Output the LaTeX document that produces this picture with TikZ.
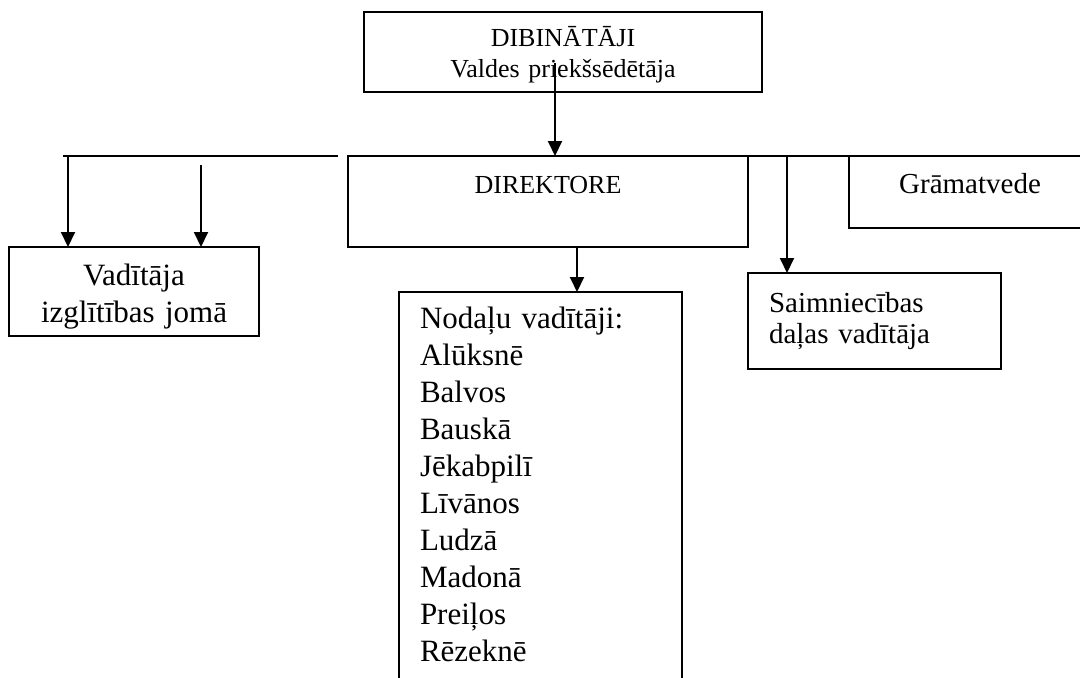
\documentclass[tikz,border=0pt]{standalone}
\usepackage{fontspec}
\setmainfont{Liberation Serif}
\usetikzlibrary{arrows.meta}
\newcommand{\boxsmall}{\fontsize{26}{31}\selectfont}
\newcommand{\boxmid}{\fontsize{29}{31}\selectfont}
\newcommand{\boxlarge}{\fontsize{31}{37}\selectfont}

\begin{document}
\begin{tikzpicture}[x=1pt, y=-1pt,
  orgbox/.style={draw, line width=1.6pt, rectangle, inner sep=0pt, outer sep=0pt, anchor=north west},
  arr/.style={line width=2pt, -{Triangle[width=14pt,length=15pt]}},
  bus/.style={line width=2pt}]
\clip (0,0) rectangle (1080,678);

% Founders box
\node[orgbox, text width=398pt, align=center, text height=34pt, text depth=46pt, font=\boxsmall] (dibin) at (364,12) {DIBINĀTĀJI\\Valdes priekšsēdētāja};

% Director box
\node[orgbox, text width=400pt, align=center, text height=37pt, text depth=54pt, font=\boxsmall] (direk) at (348,156) {DIREKTORE};

% Accountant box
\node[orgbox, text width=242pt, align=center, text height=37pt, text depth=35pt, font=\boxmid] (gramat) at (849,156) {Grāmatvede};

% Education head box
\node[orgbox, text width=250pt, align=center, text height=38pt, text depth=51pt, font=\boxlarge] (vadit) at (9,247) {Vadītāja\\izglītības jomā};

% Household head box
\node[orgbox, text width=211pt, inner xsep=21pt, align=left, text height=39pt, text depth=57pt, font=\boxmid] (saimn) at (748,273) {Saimniecības\\daļas vadītāja};

% Branch heads box
\node[orgbox, text width=241pt, inner xsep=21pt, align=left, text height=36pt, text depth=400pt, font=\boxlarge] (nodal) at (399,292) {Nodaļu vadītāji:\\Alūksnē\\Balvos\\Bauskā\\Jēkabpilī\\Līvānos\\Ludzā\\Madonā\\Preiļos\\Rēzeknē};

% Founders to director
\coordinate (dibin-in) at (555,63);
\draw[arr] (dibin-in) -- (dibin-in |- direk.north);

% Left branch line
\coordinate (busL-a) at (63,156);
\coordinate (busL-b) at (338,156);
\draw[bus] (busL-a) -- (busL-b);
\coordinate (tapL1) at (68,156);
\coordinate (tapL2) at (201,165);
\draw[arr] (tapL1) -- (tapL1 |- vadit.north);
\draw[arr] (tapL2) -- (tapL2 |- vadit.north);

% Right branch line
\coordinate (busR-a) at (613,156);
\coordinate (busR-b) at (888,156);
\draw[bus] (busR-a) -- (busR-b);
\coordinate (tapR) at (787,156);
\draw[arr] (tapR) -- (tapR |- saimn.north);

% Director to branch heads
\draw[arr] ([xshift=29pt]direk.south) -- ([xshift=29pt]direk.south |- nodal.north);
\end{tikzpicture}
\end{document}
